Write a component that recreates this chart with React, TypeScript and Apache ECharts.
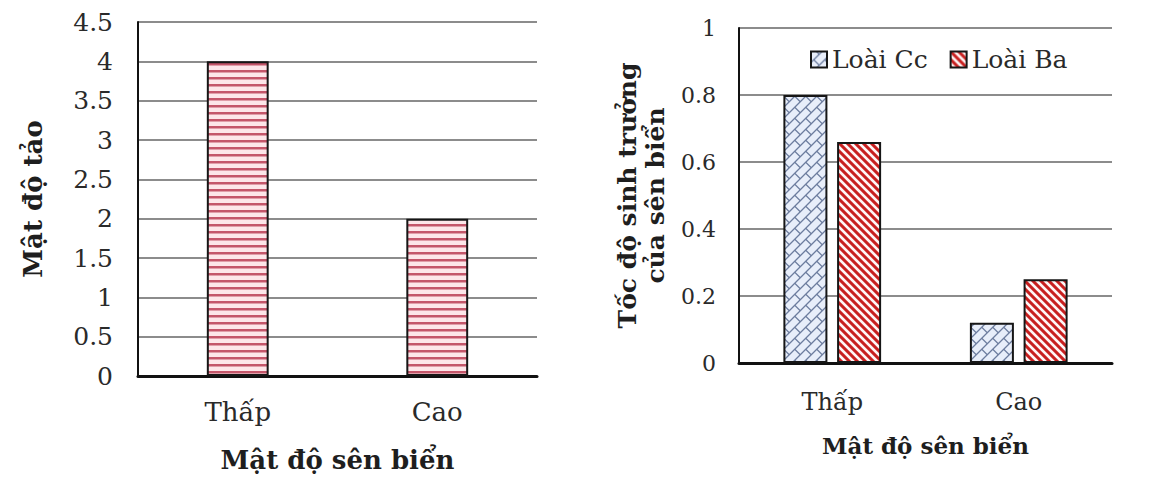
import React, { useEffect, useRef } from "react";
import * as echarts from "echarts";

// dữ liệu
const categories = ["Thấp", "Cao"];
const algaeDensity = [4, 2];
const algaeAxis = { min: 0, max: 4.5, step: 0.5 };
const seriesNames = ["Loài Cc", "Loài Ba"];
const growthCc = [0.8, 0.12];
const growthBa = [0.66, 0.25];
const growthAxis = { min: 0, max: 1, step: 0.2 };

const FONT = "DejaVu Serif";

// tạo hoa văn tô bằng canvas -> data url
const makePattern = (size: number, draw: (ctx: CanvasRenderingContext2D, s: number) => void) => {
  const k = 4;
  const c = document.createElement("canvas");
  c.width = size * k;
  c.height = size * k;
  const ctx = c.getContext("2d")!;
  ctx.scale(k, k);
  draw(ctx, size);
  return { image: c.toDataURL(), repeat: "repeat", imageWidth: size, imageHeight: size };
};

const App: React.FC = () => {
  const chartRef = useRef<HTMLDivElement>(null);

  useEffect(() => {
    if (!chartRef.current) return;
    const chart = echarts.init(chartRef.current, null, { renderer: "svg" });

    // sọc ngang hồng
    const hStripes = makePattern(7, (ctx, s) => {
      ctx.fillStyle = "#fde6e9";
      ctx.fillRect(0, 0, s, s);
      ctx.fillStyle = "#c4566a";
      ctx.fillRect(0, 0, s, 2.5);
    });

    // sọc chéo đỏ
    const dStripes = makePattern(8, (ctx, s) => {
      ctx.fillStyle = "#fff6f6";
      ctx.fillRect(0, 0, s, s);
      ctx.strokeStyle = "#c81f1f";
      ctx.lineWidth = 3;
      for (const o of [-s, 0, s]) {
        ctx.beginPath();
        ctx.moveTo(o - 1, -1);
        ctx.lineTo(o + s + 1, s + 1);
        ctx.stroke();
      }
    });

    // gạch chéo xanh xám
    const brick = makePattern(11, (ctx, s) => {
      ctx.fillStyle = "#e8eefa";
      ctx.fillRect(0, 0, s, s);
      ctx.strokeStyle = "#6c7c9e";
      ctx.lineWidth = 1.3;
      for (const c of [0, s, 2 * s]) {
        ctx.beginPath();
        ctx.moveTo(c + 1, -1);
        ctx.lineTo(c - s - 1, s + 1);
        ctx.stroke();
      }
      ctx.beginPath();
      ctx.moveTo(s / 4, (3 * s) / 4);
      ctx.lineTo((3 * s) / 4, (5 * s) / 4);
      ctx.moveTo(s / 4, -s / 4);
      ctx.lineTo((3 * s) / 4, s / 4);
      ctx.stroke();
    });

    const border = { borderColor: "#161616", borderWidth: 2 };

    const valueAxis = (grid: number, ax: { min: number; max: number; step: number }, name: string, o: any) => ({
      type: "value",
      gridIndex: grid,
      min: ax.min,
      max: ax.max,
      interval: ax.step,
      axisLine: { show: true, lineStyle: { color: "#111", width: 2 } },
      axisTick: { show: false },
      splitLine: { show: true, showMinLine: false, lineStyle: { color: "#8c8c8c", width: 2 } },
      axisLabel: { fontFamily: FONT, color: "#2a2a2a", fontSize: o.labelSize, margin: o.labelMargin },
      name,
      nameLocation: "middle",
      nameRotate: 90,
      nameGap: o.nameGap,
      nameTextStyle: {
        fontFamily: FONT,
        fontWeight: "bold",
        fontSize: o.nameSize,
        lineHeight: o.nameLine,
        color: "#1e1e1e",
      },
    });

    const catAxis = (grid: number, o: any) => ({
      type: "category",
      gridIndex: grid,
      data: categories,
      axisLine: { show: true, lineStyle: { color: "#111", width: 3 } },
      axisTick: { show: false },
      axisLabel: { fontFamily: FONT, color: "#2a2a2a", fontSize: o.labelSize, margin: o.labelMargin },
      name: "Mật độ sên biển",
      nameLocation: "middle",
      nameGap: o.nameGap,
      nameTextStyle: { fontFamily: FONT, fontWeight: "bold", fontSize: o.nameSize, color: "#1e1e1e" },
    });

    chart.setOption({
      animation: false,
      backgroundColor: "#ffffff",
      textStyle: { fontFamily: FONT },
      legend: {
        data: seriesNames,
        left: 810,
        top: 47,
        padding: 0,
        icon: "rect",
        itemWidth: 16,
        itemHeight: 16,
        itemGap: 22,
        textStyle: { fontFamily: FONT, fontSize: 25, color: "#2a2a2a" },
      },
      grid: [
        { left: 138, top: 22, width: 399, height: 354 },
        { left: 739, top: 28, width: 373, height: 335 },
      ],
      xAxis: [
        catAxis(0, { labelSize: 26, labelMargin: 23, nameGap: 71, nameSize: 26 }),
        catAxis(1, { labelSize: 24, labelMargin: 27, nameGap: 71, nameSize: 23 }),
      ],
      yAxis: [
        valueAxis(0, algaeAxis, "Mật độ tảo", {
          labelSize: 25,
          labelMargin: 25,
          nameGap: 92,
          nameSize: 26,
          nameLine: 27,
        }),
        valueAxis(1, growthAxis, "Tốc độ sinh trưởng\ncủa sên biển", {
          labelSize: 22,
          labelMargin: 23,
          nameGap: 70,
          nameSize: 25,
          nameLine: 28,
        }),
      ],
      series: [
        {
          type: "bar",
          xAxisIndex: 0,
          yAxisIndex: 0,
          data: algaeDensity,
          barWidth: "31%",
          itemStyle: { color: hStripes, ...border },
        },
        {
          name: seriesNames[0],
          type: "bar",
          xAxisIndex: 1,
          yAxisIndex: 1,
          data: growthCc,
          barWidth: "23.6%",
          barGap: "22%",
          itemStyle: { color: brick, ...border },
        },
        {
          name: seriesNames[1],
          type: "bar",
          xAxisIndex: 1,
          yAxisIndex: 1,
          data: growthBa,
          barWidth: "23.6%",
          barGap: "22%",
          itemStyle: { color: dStripes, ...border },
        },
      ],
    });

    return () => {
      chart.dispose();
    };
  }, []);

  return (
    <div
      ref={chartRef}
      style={{ position: "fixed", left: 0, top: 0, width: "1156px", height: "488px" }}
    ></div>
  );
};

export default App;
